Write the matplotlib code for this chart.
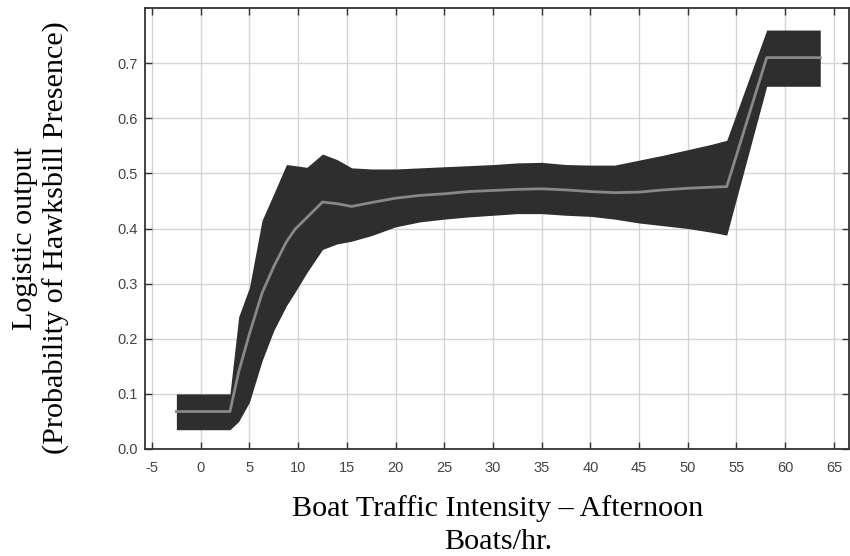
import numpy as np
import matplotlib
matplotlib.use("Agg")
import matplotlib.pyplot as plt

# Response curve: boat traffic (boats/hr) vs. logistic output, mean and band
boats = [-2.5, 3.0, 3.9, 5.0, 6.3, 7.5, 8.8, 9.7, 10.9, 12.5, 14.0, 15.5,
         17.5, 20, 22.5, 25, 27.5, 30, 32.5, 35, 37.5, 40, 42.5, 45, 47.5,
         50, 52.5, 54.0, 58.1, 63.6]
mean_out = [0.068, 0.068, 0.14, 0.209, 0.283, 0.331, 0.376, 0.399, 0.42,
            0.448, 0.445, 0.44, 0.447, 0.455, 0.46, 0.463, 0.467, 0.469,
            0.471, 0.472, 0.47, 0.467, 0.465, 0.466, 0.47, 0.473, 0.475,
            0.476, 0.71, 0.71]
upper_out = [0.10, 0.10, 0.24, 0.293, 0.415, 0.463, 0.516, 0.514, 0.511,
             0.535, 0.525, 0.51, 0.508, 0.508, 0.51, 0.512, 0.514, 0.516,
             0.519, 0.52, 0.516, 0.515, 0.515, 0.524, 0.533, 0.543, 0.553,
             0.56, 0.76, 0.76]
lower_out = [0.035, 0.035, 0.05, 0.085, 0.16, 0.215, 0.26, 0.285, 0.32,
             0.362, 0.372, 0.377, 0.387, 0.403, 0.412, 0.417, 0.421, 0.424,
             0.427, 0.427, 0.424, 0.422, 0.417, 0.41, 0.405, 0.40, 0.393,
             0.388, 0.658, 0.658]

xticks = list(range(-5, 70, 5))
yticks = [0.0, 0.1, 0.2, 0.3, 0.4, 0.5, 0.6, 0.7]

fig = plt.figure(figsize=(8.5, 5.56), dpi=100)
ax = fig.add_axes([145 / 850, 1 - 449 / 556, 704 / 850, 441 / 556])

ax.fill_between(boats, lower_out, upper_out, color="#2e2e2e", lw=0, zorder=3)
ax.plot(boats, mean_out, color="#888888", lw=2, zorder=4)

ax.set_xlim(-5.72, 66.55)
ax.set_ylim(0, 0.8)
ax.set_xticks(xticks)
ax.set_yticks(yticks)
ax.set_xticklabels([str(t) for t in xticks])
ax.set_yticklabels([f"{t:.1f}" for t in yticks])
ax.grid(True, color="#d4d4d4", lw=1, zorder=0)
ax.set_axisbelow(True)

ax.tick_params(direction="in", length=5, width=1, color="#333333",
               labelcolor="#444444", top=True, right=True,
               labelfontfamily="Liberation Sans", labelsize=10.5)
ax.tick_params(axis="x", pad=8.5)
ax.tick_params(axis="y", pad=5)
for side in ["left", "bottom", "top", "right"]:
    ax.spines[side].set_color("#333333")
    ax.spines[side].set_linewidth(1.3)

fig.text(498 / 850, 1 - 495 / 556,
         "Boat Traffic Intensity \u2013 Afternoon\nBoats/hr.",
         ha="center", va="top", family="Liberation Serif", fontsize=21.7,
         linespacing=1.33)
fig.text(41 / 850, 1 - 238 / 556,
         "Logistic output\n(Probability of Hawksbill Presence)",
         ha="center", va="center", rotation=90, family="Liberation Serif",
         fontsize=21.7, linespacing=1.25)

fig.savefig("out.png", dpi=100)
